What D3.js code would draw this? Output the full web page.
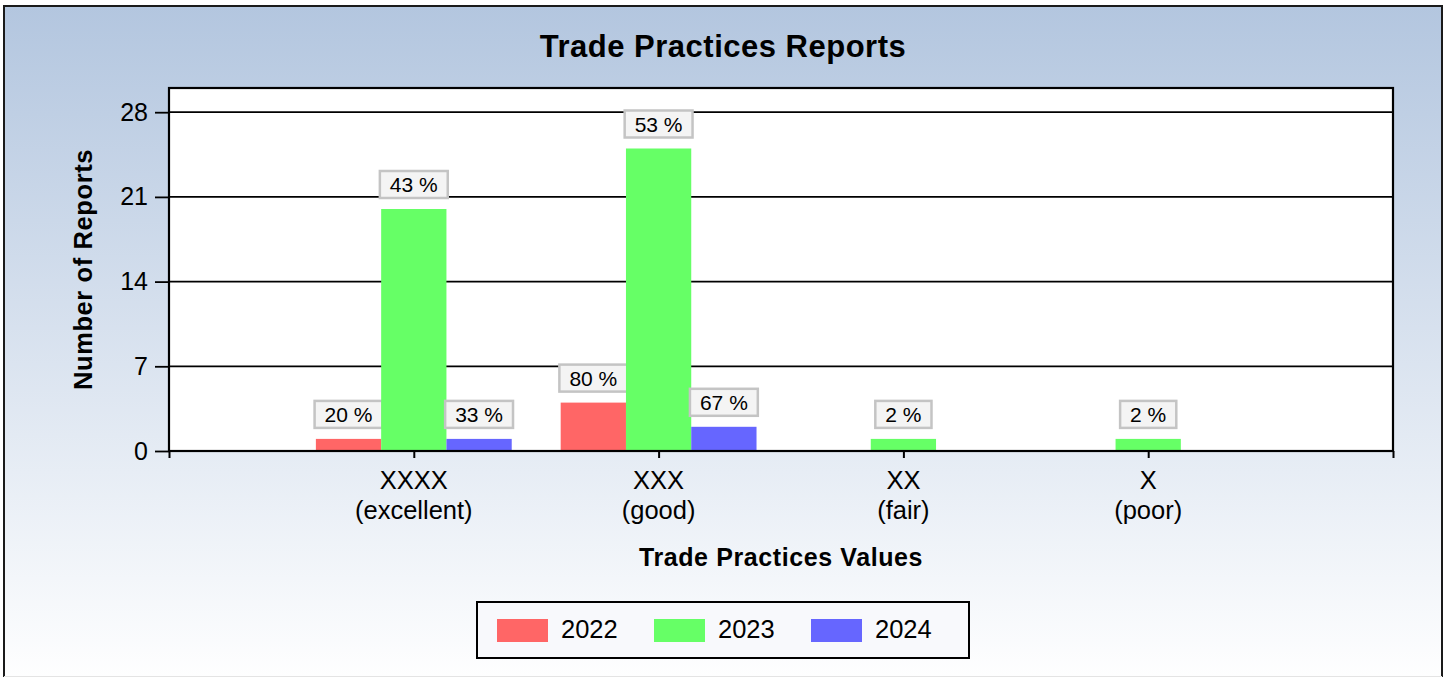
<!DOCTYPE html>
<html>
<head>
<meta charset="utf-8">
<script src="https://cdn.jsdelivr.net/npm/d3@7"></script>
<style>
  html, body { margin: 0; padding: 0; background: #fff; }
  svg { display: block; font-family: "Liberation Sans", Arial, sans-serif; }
</style>
</head>
<body>
<div id="chart"></div>
<script>
// data
const categories = ["XXXX", "XXX", "XX", "X"];
const categoryNotes = ["(excellent)", "(good)", "(fair)", "(poor)"];
const years = ["2022", "2023", "2024"];
const values2022 = [1, 4, 0, 0];
const values2023 = [20, 25, 1, 1];
const values2024 = [1, 2, 0, 0];
const yTicks = [0, 7, 14, 21, 28];
const seriesColors = ["#ff6666", "#66ff66", "#6666ff"];

const series = [values2022, values2023, values2024];

const width = 1446, height = 677;
const margin = { top: 88, right: 53, bottom: 226, left: 169 };
const plotW = width - margin.left - margin.right;
const plotH = height - margin.top - margin.bottom;

const svg = d3.select("#chart").append("svg")
    .attr("width", width)
    .attr("height", height);

const defs = svg.append("defs");
const grad = defs.append("linearGradient")
    .attr("id", "bg")
    .attr("x1", 0).attr("y1", 0).attr("x2", 0).attr("y2", 1);
grad.append("stop").attr("offset", "0%").attr("stop-color", "#b3c6df");
grad.append("stop").attr("offset", "100%").attr("stop-color", "#ffffff");

// outer frame (bottom edge runs off the page)
svg.append("rect")
    .attr("x", 4).attr("y", 6)
    .attr("width", 1438).attr("height", 680)
    .attr("fill", "url(#bg)")
    .attr("stroke", "#1a1a1a")
    .attr("stroke-width", 2);
svg.append("line")
    .attr("x1", 4).attr("x2", 1442)
    .attr("y1", 676.5).attr("y2", 676.5)
    .attr("stroke", "#e4e4e4").attr("stroke-width", 1);

svg.append("text")
    .attr("x", width / 2)
    .attr("y", 57)
    .attr("text-anchor", "middle")
    .style("font-size", "31px")
    .style("font-weight", "bold")
    .style("letter-spacing", "0.5px")
    .text("Trade Practices Reports");

const g = svg.append("g")
    .attr("transform", "translate(" + margin.left + "," + margin.top + ")");

g.append("rect")
    .attr("width", plotW)
    .attr("height", plotH)
    .attr("fill", "white");

const x = d3.scaleLinear()
    .domain([0, categories.length + 1])
    .range([0, plotW]);

const y = d3.scaleLinear()
    .domain([0, 30])
    .range([plotH, 0]);

const step = x(1) - x(0);
const x1 = d3.scaleBand()
    .domain(years)
    .range([-step * 0.4, step * 0.4]);

// grid lines
g.selectAll(".grid")
    .data(yTicks)
    .enter()
    .append("line")
    .attr("class", "grid")
    .attr("x1", 0).attr("x2", plotW)
    .attr("y1", function (d) { return y(d); })
    .attr("y2", function (d) { return y(d); })
    .attr("stroke", "#000")
    .attr("stroke-width", 1.8);

// bars
const groups = g.selectAll(".cat")
    .data(categories)
    .enter()
    .append("g")
    .attr("class", "cat")
    .attr("transform", function (d, i) { return "translate(" + x(i + 1) + ",0)"; });

years.forEach(function (yr, s) {
    const total = d3.sum(series[s]);
    groups.append("rect")
        .filter(function (d, i) { return series[s][i] > 0; })
        .attr("x", x1(yr))
        .attr("width", x1.bandwidth())
        .attr("y", function (d, i) { return y(series[s][i]); })
        .attr("height", function (d, i) { return plotH - y(series[s][i]); })
        .attr("fill", seriesColors[s]);

    const lab = groups.append("g")
        .filter(function (d, i) { return series[s][i] > 0; })
        .attr("transform", function (d, i) {
            return "translate(" + (x1(yr) + x1.bandwidth() / 2) + "," + (y(series[s][i]) - 11) + ")";
        });
    lab.append("text")
        .attr("text-anchor", "middle")
        .attr("y", -6)
        .style("font-size", "21px")
        .text(function (d, i) { return Math.round(series[s][i] / total * 100) + " %"; });
    lab.each(function () {
        const t = d3.select(this).select("text");
        const w = t.node().getComputedTextLength() + 20;
        d3.select(this).insert("rect", "text")
            .attr("x", -w / 2)
            .attr("y", -27)
            .attr("width", w)
            .attr("height", 27)
            .attr("fill", "#f4f4f4")
            .attr("stroke", "#c4c4c4")
            .attr("stroke-width", 2.5);
    });
});

// axes
const yAxis = g.append("g")
    .call(d3.axisLeft(y).tickValues(yTicks).tickSize(14).tickPadding(7));
yAxis.select(".domain").remove();
yAxis.selectAll(".tick line").attr("stroke", "#000").attr("stroke-width", 1.8);
yAxis.selectAll("text")
    .style("font-size", "25px")
    .attr("fill", "#000");

const xAxis = g.append("g")
    .attr("transform", "translate(0," + plotH + ")")
    .call(d3.axisBottom(x)
        .tickValues(d3.range(0, categories.length + 2))
        .tickSize(7)
        .tickFormat(""));
xAxis.select(".domain").remove();
xAxis.selectAll(".tick line").attr("stroke", "#000").attr("stroke-width", 2);

const xLabels = g.selectAll(".xlab")
    .data(categories)
    .enter()
    .append("text")
    .attr("class", "xlab")
    .attr("text-anchor", "middle")
    .attr("transform", function (d, i) { return "translate(" + x(i + 1) + "," + (plotH + 38) + ")"; })
    .style("font-size", "25.5px");
xLabels.append("tspan").attr("x", 0).text(function (d) { return d; });
xLabels.append("tspan").attr("x", 0).attr("dy", 29.5)
    .text(function (d, i) { return categoryNotes[i]; });

// plot frame
g.append("rect")
    .attr("width", plotW)
    .attr("height", plotH)
    .attr("fill", "none")
    .attr("stroke", "#000")
    .attr("stroke-width", 2.2);

// axis titles
svg.append("text")
    .attr("transform", "translate(92," + (margin.top + plotH / 2) + ") rotate(-90)")
    .attr("text-anchor", "middle")
    .style("font-size", "25.5px")
    .style("font-weight", "bold")
    .style("letter-spacing", "0.6px")
    .text("Number of Reports");

svg.append("text")
    .attr("x", margin.left + plotW / 2)
    .attr("y", 566)
    .attr("text-anchor", "middle")
    .style("font-size", "25px")
    .style("font-weight", "bold")
    .style("letter-spacing", "0.6px")
    .text("Trade Practices Values");

// legend
const legW = 492, legH = 56;
const legend = svg.append("g")
    .attr("transform", "translate(" + (width / 2 - legW / 2) + ",602)");
legend.append("rect")
    .attr("width", legW)
    .attr("height", legH)
    .attr("fill", "#f8f9fc")
    .attr("stroke", "#000")
    .attr("stroke-width", 2);
const items = legend.selectAll(".item")
    .data(years)
    .enter()
    .append("g")
    .attr("class", "item")
    .attr("transform", function (d, i) { return "translate(" + (20 + i * 157) + ",0)"; });
items.append("rect")
    .attr("y", 17)
    .attr("width", 51)
    .attr("height", 23)
    .attr("fill", function (d, i) { return seriesColors[i]; });
items.append("text")
    .attr("x", 64)
    .attr("y", 36)
    .style("font-size", "25.5px")
    .text(function (d) { return d; });
</script>
</body>
</html>
